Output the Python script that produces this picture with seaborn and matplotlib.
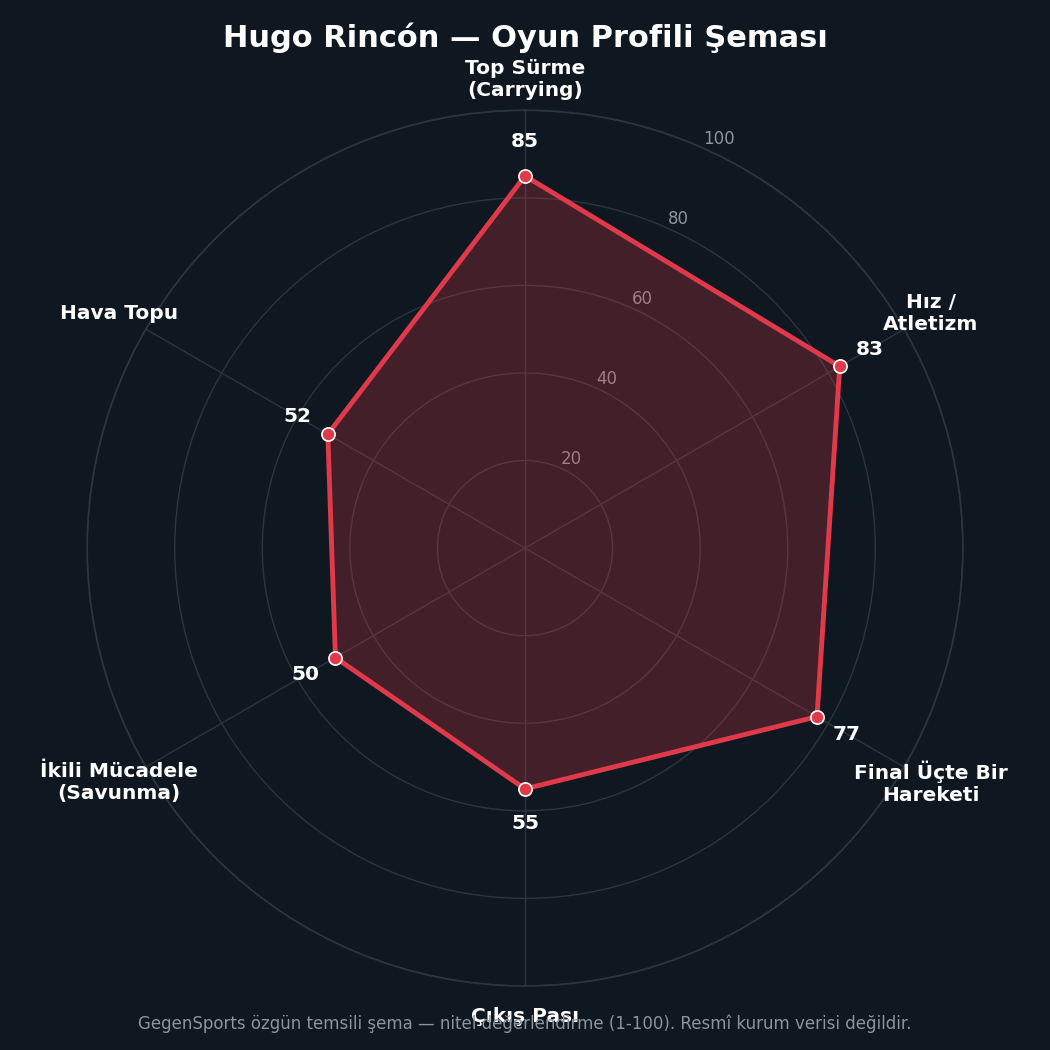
import numpy as np
import matplotlib.pyplot as plt
import seaborn as sns

sns.set_theme(style="dark")
plt.rcParams['font.family'] = ['DejaVu Sans']

categories = ["Top Sürme\n(Carrying)", "Hız /\nAtletizm", "Final Üçte Bir\nHareketi",
              "Çıkış Pası", "İkili Mücadele\n(Savunma)", "Hava Topu"]
values = [85, 83, 77, 55, 50, 52]
rings = [20, 40, 60, 80, 100]

bg = "#0f1720"
grid = "#2a3640"
red = "#e03a4a"

fig = plt.figure(figsize=(10.5, 10.5), dpi=100, facecolor=bg)
ax = fig.add_axes([0.083, 0.061, 0.834, 0.834], polar=True, facecolor=bg)
ax.set_theta_offset(np.pi / 2)
ax.set_theta_direction(-1)

angles = np.linspace(0, 2 * np.pi, len(categories), endpoint=False)
a_closed = np.append(angles, angles[0])
v_closed = values + values[:1]

ax.fill(a_closed, v_closed, color=red, alpha=0.25, zorder=2)
ax.plot(a_closed, v_closed, color=red, lw=3.5, zorder=3)
ax.scatter(angles, values, s=90, color=red, edgecolor="white", linewidth=1.2, zorder=4)

ax.set_ylim(0, 100)
ax.set_yticks(rings)
ax.set_yticklabels([str(r) for r in rings], color="#8a959e", fontsize=12)
ax.set_rlabel_position(24)
ax.set_xticks(angles)
ax.set_xticklabels([])
ax.grid(color=grid, lw=1)
ax.spines['polar'].set_color(grid)

for ang, lab in zip(angles, categories):
    ax.text(ang, 107, lab, color="white", fontsize=14.5, fontweight="bold",
            ha="center", va="center", clip_on=False)

for ang, v in zip(angles, values):
    ax.annotate(str(v), (ang, v), xytext=(25 * np.sin(ang), 25 * np.cos(ang)),
                textcoords="offset points", color="white", fontsize=14.5,
                fontweight="bold", ha="center", va="center", zorder=5)

fig.text(0.5, 0.964, "Hugo Rincón — Oyun Profili Şeması", color="white",
         fontsize=22, fontweight="bold", ha="center", va="center")
fig.text(0.5, 0.025, "GegenSports özgün temsili şema — nitel değerlendirme (1-100). Resmî kurum verisi değildir.",
         color="#8a959e", fontsize=12, ha="center", va="center")

fig.savefig("out.png", dpi=100, facecolor=bg)
